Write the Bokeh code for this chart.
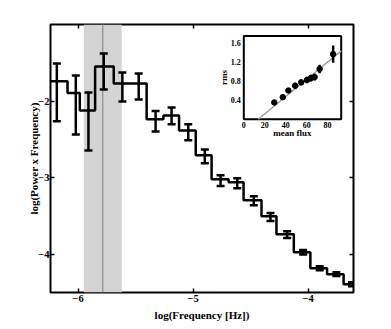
import numpy as np
from bokeh.plotting import figure
from bokeh.models import (Range1d, FixedTicker, LinearAxis, ColumnDataSource,
                          Whisker, TeeHead, BoxAnnotation, Span)
from bokeh.core.properties import value
from bokeh.embed import file_html
from bokeh.resources import INLINE

# ---------------- main power spectrum data ----------------
bin_edges = [-6.237, -6.092, -5.985, -5.852, -5.690, -5.547, -5.404, -5.258, -5.122,
             -4.977, -4.839, -4.691, -4.561, -4.405, -4.275, -4.124, -3.980, -3.835,
             -3.691, -3.55]
bin_centers = [-6.185, -6.020, -5.910, -5.777, -5.615, -5.473, -5.326, -5.187, -5.042,
               -4.898, -4.761, -4.616, -4.472, -4.327, -4.182, -4.043, -3.899, -3.754,
               -3.618]
log_pf = [-1.740, -1.896, -2.122, -1.548, -1.770, -1.770, -2.239, -2.187, -2.383,
          -2.709, -3.022, -3.061, -3.296, -3.505, -3.739, -3.974, -4.183, -4.261,
          -4.392]
err_hi = [-1.509, -1.665, -1.887, -1.378, -1.626, -1.639, -2.131, -2.083, -2.304,
          -2.631, -2.970, -3.009, -3.244, -3.462, -3.700, -3.945, -4.157, -4.236,
          -4.367]
err_lo = [-2.265, -2.435, -2.644, -1.848, -2.004, -1.978, -2.396, -2.304, -2.513,
          -2.813, -3.109, -3.139, -3.361, -3.566, -3.788, -4.003, -4.209, -4.286,
          -4.417]

band_lo, band_hi = -5.950, -5.620
peak_freq = -5.786

x_ticks = [-6, -5, -4]
x_tick_labels = ["\u22126", "\u22125", "\u22124"]
y_ticks = [-4, -3, -2]
y_tick_labels = ["\u22124", "\u22123", "\u22122"]

# ---------------- inset (rms-flux) data ----------------
mean_flux = [29.1, 37.2, 42.6, 49.0, 54.8, 60.3, 64.1, 67.6, 72.4, 85.3]
rms = [0.35, 0.46, 0.60, 0.70, 0.77, 0.82, 0.86, 0.88, 1.05, 1.36]
rms_err = [0.03, 0.04, 0.05, 0.06, 0.06, 0.07, 0.07, 0.07, 0.09, 0.18]
fit_x = [13.8, 93.0]
fit_y = [0.0, 1.43]
inset_x_ticks = [0, 20, 40, 60, 80]
inset_x_labels = ["0", "20", "40", "60", "80"]
inset_y_ticks = [0.4, 0.8, 1.2, 1.6]
inset_y_labels = ["0.4", "0.8", "1.2", "1.6"]

FONT = value("Liberation Serif")

p = figure(width=391, height=329, x_range=Range1d(-6.24, -3.605),
           y_range=Range1d(-4.5, -1.0), output_backend="svg", toolbar_location=None,
           min_border_left=50, min_border_top=24, min_border_right=38,
           min_border_bottom=37, x_axis_label="log(Frequency [Hz])",
           y_axis_label="log(Power x Frequency)")
p.background_fill_color = "white"
p.border_fill_color = "white"
p.grid.visible = False
p.outline_line_color = "black"
p.outline_line_width = 2
p.outline_line_alpha = 1

p.xaxis.ticker = FixedTicker(ticks=x_ticks)
p.yaxis.ticker = FixedTicker(ticks=y_ticks)
p.xaxis.major_label_overrides = dict(zip(x_ticks, x_tick_labels))
p.yaxis.major_label_overrides = dict(zip(y_ticks, y_tick_labels))
for ax in [p.xaxis[0], p.yaxis[0]]:
    ax.axis_line_color = None
    ax.major_tick_in = 4
    ax.major_tick_out = 0
    ax.major_tick_line_width = 1.5
    ax.minor_tick_line_color = None
    ax.major_label_text_font = "Liberation Serif"
    ax.major_label_text_font_style = "bold"
    ax.major_label_text_font_size = "10.5px"
    ax.major_label_text_color = "black"
    ax.axis_label_text_font = "Liberation Serif"
    ax.axis_label_text_font_style = "bold"
    ax.axis_label_text_font_size = "11px"
    ax.axis_label_text_color = "black"
p.xaxis.major_label_standoff = 2
p.xaxis.axis_label_standoff = 4
p.yaxis.major_label_standoff = 1
p.yaxis.axis_label_standoff = -5

for side, tks in [("above", x_ticks), ("right", y_ticks)]:
    ax = LinearAxis(ticker=FixedTicker(ticks=tks), axis_line_color=None,
                    major_tick_in=4, major_tick_out=0, major_tick_line_width=1.5,
                    minor_tick_line_color=None,
                    major_label_overrides={t: "" for t in tks})
    p.add_layout(ax, side)

# shaded band and peak line
p.add_layout(BoxAnnotation(left=band_lo, right=band_hi, fill_color="#d4d4d4",
                           fill_alpha=1, line_color=None, level="underlay"))
p.add_layout(Span(location=peak_freq, dimension="height", line_color="#9a9a9a",
                  line_width=1.5, level="underlay"))

# step histogram
p.step(x=bin_edges, y=log_pf + [log_pf[-1]], mode="after", line_color="black",
       line_width=2.5)

# error bars
src = ColumnDataSource(dict(x=bin_centers, lo=err_lo, hi=err_hi))
p.add_layout(Whisker(base="x", upper="hi", lower="lo", source=src,
                     line_color="black", line_width=2.5,
                     upper_head=TeeHead(size=8, line_width=2.5, line_color="black"),
                     lower_head=TeeHead(size=8, line_width=2.5, line_color="black"),
                     level="glyph"))

# ---------------- inset ----------------
ix0, ix1 = 0.0, 93.0
iy0, iy1 = 0.0, 1.74
ins = p.subplot(x_source=Range1d(ix0, ix1), y_source=Range1d(iy0, iy1),
                x_target=Range1d(-4.559, -3.712), y_target=Range1d(-2.237, -1.150))
ins.quad(left=[ix0], right=[ix1], bottom=[iy0], top=[iy1], fill_color="white",
         line_color="black", line_width=2)
ins.line(fit_x, fit_y, line_color="#a0a0a0", line_width=1.5)
lo = [r - e for r, e in zip(rms, rms_err)]
hi = [r + e for r, e in zip(rms, rms_err)]
ins.segment(x0=mean_flux, y0=lo, x1=mean_flux, y1=hi, line_color="black", line_width=2.5)
ins.scatter(mean_flux, rms, size=5.5, color="black")

ins.text(x=inset_x_ticks, y=[iy0] * len(inset_x_ticks), text=inset_x_labels,
         text_font=FONT, text_font_style="bold", text_font_size="8px",
         text_align="center", text_baseline="top", y_offset=3, text_color="black")
ins.text(x=[ix0] * len(inset_y_ticks), y=inset_y_ticks, text=inset_y_labels,
         text_font=FONT, text_font_style="bold", text_font_size="8px",
         text_align="right", text_baseline="middle", x_offset=-3, text_color="black")
ins.text(x=[(ix0 + ix1) / 2], y=[iy0], text=["mean flux"], text_font=FONT,
         text_font_style="bold", text_font_size="9px", text_align="center",
         text_baseline="top", y_offset=9, text_color="black")
ins.text(x=[ix0], y=[(iy0 + iy1) / 2], text=["rms"], text_font=FONT,
         text_font_style="bold", text_font_size="9px", text_align="center",
         text_baseline="bottom", x_offset=-15, angle=np.pi / 2, text_color="black")

open("out.html", "w").write(file_html(p, INLINE))
